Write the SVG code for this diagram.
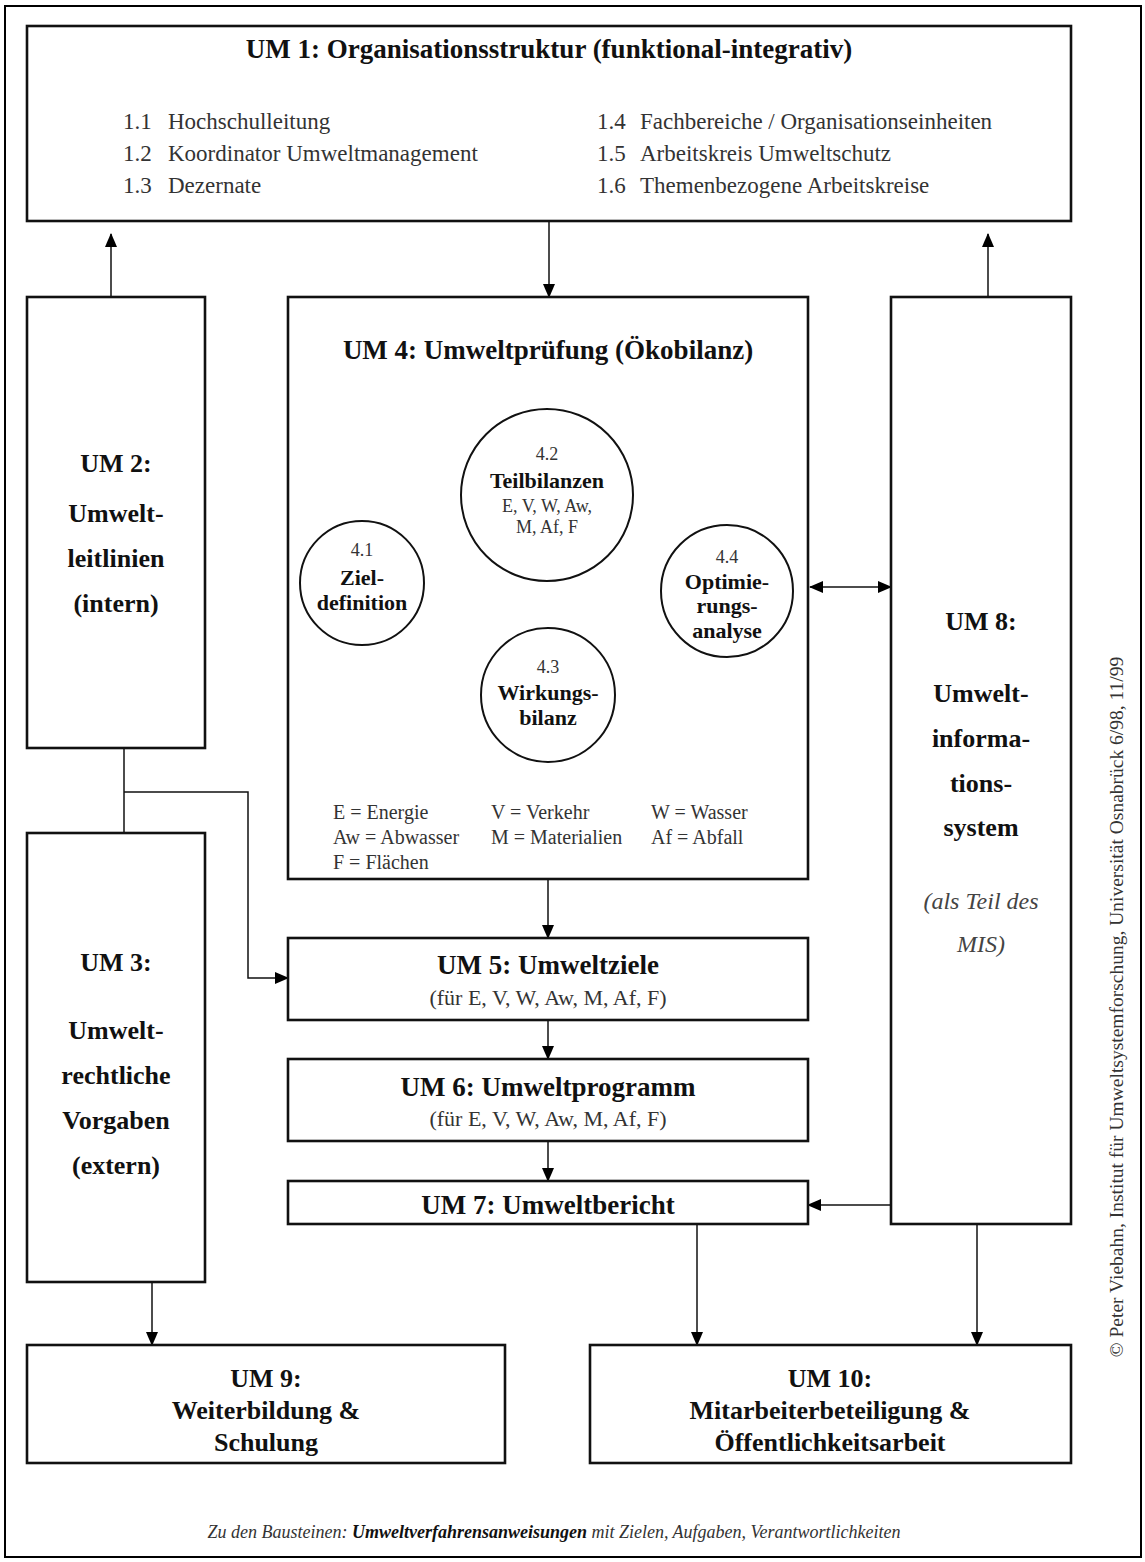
<svg xmlns="http://www.w3.org/2000/svg" width="1145" height="1562" viewBox="0 0 1145 1562">
  <defs>
    <marker id="arrow" viewBox="0 0 14 12" refX="13" refY="6" markerWidth="14" markerHeight="12" markerUnits="userSpaceOnUse" orient="auto-start-reverse">
      <path d="M0,0 L14,6 L0,12 Z" fill="#000"/>
    </marker>
    <style>
      text { font-family: "Liberation Serif", "Times New Roman", serif; }
      .box { fill: #fff; stroke: #111; stroke-width: 2.6; }
      .circ { fill: #fff; stroke: #111; stroke-width: 2; }
      .lbl { font-size: 26px; font-weight: bold; fill: #111; text-anchor: middle; }
      .ttl { font-size: 27px; font-weight: bold; fill: #111; text-anchor: middle; }
      .item { font-size: 23px; fill: #333; }
      .sub { font-size: 22px; fill: #333; text-anchor: middle; }
      .cnum { font-size: 18px; fill: #333; text-anchor: middle; }
      .cbold { font-size: 22px; font-weight: bold; fill: #111; text-anchor: middle; }
      .csmall { font-size: 18px; fill: #333; text-anchor: middle; }
      .leg { font-size: 20px; fill: #333; }
      .ital { font-size: 24px; font-style: italic; fill: #444; text-anchor: middle; }
      .conn { fill: none; stroke: #111; stroke-width: 1.5; }
    </style>
  </defs>

  <!-- frame -->
  <rect x="5" y="6" width="1136" height="1551" fill="#fff" stroke="#000" stroke-width="2"/>

  <!-- connectors -->
  <g id="connectors">
    <line class="conn" x1="111" y1="297" x2="111" y2="234" marker-end="url(#arrow)"/>
    <line class="conn" x1="988" y1="297" x2="988" y2="234" marker-end="url(#arrow)" stroke="#555"/>
    <line class="conn" x1="549" y1="221" x2="549" y2="297" marker-end="url(#arrow)"/>
    <line class="conn" x1="124" y1="748" x2="124" y2="833"/>
    <polyline class="conn" points="124,792 248,792 248,978 288,978" marker-end="url(#arrow)"/>
    <line class="conn" x1="548" y1="879" x2="548" y2="938" marker-end="url(#arrow)"/>
    <line class="conn" x1="548" y1="1020" x2="548" y2="1059" marker-end="url(#arrow)"/>
    <line class="conn" x1="548" y1="1141" x2="548" y2="1181" marker-end="url(#arrow)"/>
    <line class="conn" x1="891" y1="1205" x2="808" y2="1205" marker-end="url(#arrow)"/>
    <line class="conn" x1="152" y1="1282" x2="152" y2="1345" marker-end="url(#arrow)"/>
    <line class="conn" x1="697" y1="1224" x2="697" y2="1345" marker-end="url(#arrow)"/>
    <line class="conn" x1="977" y1="1224" x2="977" y2="1345" marker-end="url(#arrow)"/>
    <line class="conn" x1="810" y1="587" x2="891" y2="587" marker-start="url(#arrow)" marker-end="url(#arrow)"/>
    <line class="conn" x1="428" y1="582" x2="485" y2="557" marker-start="url(#arrow)" marker-end="url(#arrow)"/>
    <line class="conn" x1="610" y1="555" x2="658" y2="588" marker-start="url(#arrow)" marker-end="url(#arrow)"/>
    <line class="conn" x1="548" y1="581" x2="548" y2="628" marker-start="url(#arrow)" marker-end="url(#arrow)"/>
  </g>

  <!-- UM 1 -->
  <g id="um1">
    <rect class="box" x="27" y="26" width="1044" height="195"/>
    <text class="ttl" x="549" y="58">UM 1: Organisationsstruktur (funktional-integrativ)</text>
    <text class="item" x="123" y="129">1.1</text>
    <text class="item" x="168" y="129">Hochschulleitung</text>
    <text class="item" x="123" y="161">1.2</text>
    <text class="item" x="168" y="161">Koordinator Umweltmanagement</text>
    <text class="item" x="123" y="193">1.3</text>
    <text class="item" x="168" y="193">Dezernate</text>
    <text class="item" x="597" y="129">1.4</text>
    <text class="item" x="640" y="129">Fachbereiche / Organisationseinheiten</text>
    <text class="item" x="597" y="161">1.5</text>
    <text class="item" x="640" y="161">Arbeitskreis Umweltschutz</text>
    <text class="item" x="597" y="193">1.6</text>
    <text class="item" x="640" y="193">Themenbezogene Arbeitskreise</text>
  </g>

  <!-- UM 2 -->
  <g id="um2">
    <rect class="box" x="27" y="297" width="178" height="451"/>
    <text class="lbl" x="116" y="472">UM 2:</text>
    <text class="lbl" x="116" y="522">Umwelt-</text>
    <text class="lbl" x="116" y="567">leitlinien</text>
    <text class="lbl" x="116" y="612">(intern)</text>
  </g>

  <!-- UM 4 -->
  <g id="um4">
    <rect class="box" x="288" y="297" width="520" height="582"/>
    <text class="ttl" x="548" y="359">UM 4: Umweltprüfung (Ökobilanz)</text>
    <text class="leg" x="333" y="819">E = Energie</text>
    <text class="leg" x="491" y="819">V = Verkehr</text>
    <text class="leg" x="651" y="819">W = Wasser</text>
    <text class="leg" x="333" y="844">Aw = Abwasser</text>
    <text class="leg" x="491" y="844">M = Materialien</text>
    <text class="leg" x="651" y="844">Af = Abfall</text>
    <text class="leg" x="333" y="869">F = Flächen</text>
  </g>

  <g id="c41">
    <circle class="circ" cx="362" cy="583" r="62"/>
    <text class="cnum" x="362" y="556">4.1</text>
    <text class="cbold" x="362" y="585">Ziel-</text>
    <text class="cbold" x="362" y="610">definition</text>
  </g>
  <g id="c42">
    <circle class="circ" cx="547" cy="495" r="86"/>
    <text class="cnum" x="547" y="460">4.2</text>
    <text class="cbold" x="547" y="488">Teilbilanzen</text>
    <text class="csmall" x="547" y="512">E, V, W, Aw,</text>
    <text class="csmall" x="547" y="533">M, Af, F</text>
  </g>
  <g id="c43">
    <circle class="circ" cx="548" cy="695" r="67"/>
    <text class="cnum" x="548" y="673">4.3</text>
    <text class="cbold" x="548" y="700">Wirkungs-</text>
    <text class="cbold" x="548" y="725">bilanz</text>
  </g>
  <g id="c44">
    <circle class="circ" cx="727" cy="591" r="66"/>
    <text class="cnum" x="727" y="563">4.4</text>
    <text class="cbold" x="727" y="589">Optimie-</text>
    <text class="cbold" x="727" y="613">rungs-</text>
    <text class="cbold" x="727" y="638">analyse</text>
  </g>

  <!-- UM 8 -->
  <g id="um8">
    <rect class="box" x="891" y="297" width="180" height="927"/>
    <text class="lbl" x="981" y="630">UM 8:</text>
    <text class="lbl" x="981" y="702">Umwelt-</text>
    <text class="lbl" x="981" y="747">informa-</text>
    <text class="lbl" x="981" y="792">tions-</text>
    <text class="lbl" x="981" y="836">system</text>
    <text class="ital" x="981" y="909">(als Teil des</text>
    <text class="ital" x="981" y="952">MIS)</text>
  </g>

  <!-- UM 3 -->
  <g id="um3">
    <rect class="box" x="27" y="833" width="178" height="449"/>
    <text class="lbl" x="116" y="971">UM 3:</text>
    <text class="lbl" x="116" y="1039">Umwelt-</text>
    <text class="lbl" x="116" y="1084">rechtliche</text>
    <text class="lbl" x="116" y="1129">Vorgaben</text>
    <text class="lbl" x="116" y="1174">(extern)</text>
  </g>

  <!-- UM 5 -->
  <g id="um5">
    <rect class="box" x="288" y="938" width="520" height="82"/>
    <text class="ttl" x="548" y="974">UM 5: Umweltziele</text>
    <text class="sub" x="548" y="1005">(für E, V, W, Aw, M, Af, F)</text>
  </g>

  <!-- UM 6 -->
  <g id="um6">
    <rect class="box" x="288" y="1059" width="520" height="82"/>
    <text class="ttl" x="548" y="1096">UM 6: Umweltprogramm</text>
    <text class="sub" x="548" y="1126">(für E, V, W, Aw, M, Af, F)</text>
  </g>

  <!-- UM 7 -->
  <g id="um7">
    <rect class="box" x="288" y="1181" width="520" height="43"/>
    <text class="ttl" x="548" y="1214">UM 7: Umweltbericht</text>
  </g>

  <!-- UM 9 -->
  <g id="um9">
    <rect class="box" x="27" y="1345" width="478" height="118"/>
    <text class="lbl" x="266" y="1387">UM 9:</text>
    <text class="lbl" x="266" y="1419">Weiterbildung &amp;</text>
    <text class="lbl" x="266" y="1451">Schulung</text>
  </g>

  <!-- UM 10 -->
  <g id="um10">
    <rect class="box" x="590" y="1345" width="481" height="118"/>
    <text class="lbl" x="830" y="1387">UM 10:</text>
    <text class="lbl" x="830" y="1419">Mitarbeiterbeteiligung &amp;</text>
    <text class="lbl" x="830" y="1451">Öffentlichkeitsarbeit</text>
  </g>

  <!-- footnote and credit -->
  <text x="554" y="1538" font-size="18" font-style="italic" fill="#333" text-anchor="middle">Zu den Bausteinen: <tspan font-weight="bold" fill="#111">Umweltverfahrensanweisungen</tspan> mit Zielen, Aufgaben, Verantwortlichkeiten</text>
  <text transform="translate(1123,1007) rotate(-90)" x="0" y="0" font-size="19.5" fill="#333" text-anchor="middle">© Peter Viebahn, Institut für Umweltsystemforschung, Universität Osnabrück 6/98, 11/99</text>
</svg>
